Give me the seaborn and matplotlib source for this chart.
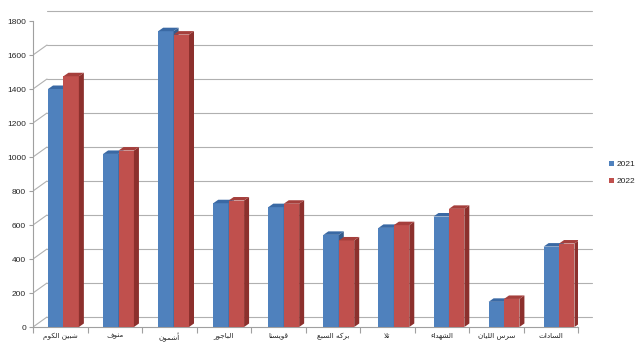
import numpy as np
import pandas as pd
import matplotlib
matplotlib.use("Agg")
import matplotlib.pyplot as plt
import seaborn as sns
from matplotlib.patches import Polygon
from matplotlib.transforms import offset_copy
from matplotlib.lines import Line2D

# ---------------- data ----------------
categories = ["شبين الكوم", "منوف", "أشمون", "الباجور", "قويسنا",
              "بركه السبع", "تلا", "الشهداء", "سرس الليان", "السادات"]
years = ["2021", "2022"]
values_2021 = [1400, 1018, 1740, 728, 705, 542, 583, 650, 148, 473]
values_2022 = [1475, 1038, 1720, 744, 725, 509, 599, 695, 165, 491]
y_ticks = [0, 200, 400, 600, 800, 1000, 1200, 1400, 1600, 1800]

# ------------- minimal Arabic shaping for display -------------
FORMS = {
    "ا": (0xFE8D, 0xFE8E, None, None), "أ": (0xFE83, 0xFE84, None, None),
    "ب": (0xFE8F, 0xFE90, 0xFE91, 0xFE92), "ت": (0xFE95, 0xFE96, 0xFE97, 0xFE98),
    "ج": (0xFE9D, 0xFE9E, 0xFE9F, 0xFEA0), "د": (0xFEA9, 0xFEAA, None, None),
    "ر": (0xFEAD, 0xFEAE, None, None), "س": (0xFEB1, 0xFEB2, 0xFEB3, 0xFEB4),
    "ش": (0xFEB5, 0xFEB6, 0xFEB7, 0xFEB8), "ع": (0xFEC9, 0xFECA, 0xFECB, 0xFECC),
    "ف": (0xFED1, 0xFED2, 0xFED3, 0xFED4), "ق": (0xFED5, 0xFED6, 0xFED7, 0xFED8),
    "ك": (0xFED9, 0xFEDA, 0xFEDB, 0xFEDC), "ل": (0xFEDD, 0xFEDE, 0xFEDF, 0xFEE0),
    "م": (0xFEE1, 0xFEE2, 0xFEE3, 0xFEE4), "ن": (0xFEE5, 0xFEE6, 0xFEE7, 0xFEE8),
    "ه": (0xFEE9, 0xFEEA, 0xFEEB, 0xFEEC), "و": (0xFEED, 0xFEEE, None, None),
    "ي": (0xFEF1, 0xFEF2, 0xFEF3, 0xFEF4), "ء": (0xFE80, None, None, None),
}
LAMALEF = {"ا": (0xFEFB, 0xFEFC), "أ": (0xFEF7, 0xFEF8)}


def dual(c):
    return c in FORMS and FORMS[c][2] is not None


def joins(c):
    return c in FORMS and FORMS[c][1] is not None


def shape(text):
    units = []
    i = 0
    while i < len(text):
        c = text[i]
        if c == "ل" and i + 1 < len(text) and text[i + 1] in LAMALEF:
            units.append(("LA", text[i + 1]))
            i += 2
        else:
            units.append((c, None))
            i += 1
    out = []
    for k, (c, extra) in enumerate(units):
        prev = units[k - 1][0] if k > 0 else None
        nxt = units[k + 1][0] if k + 1 < len(units) else None
        prev_d = prev is not None and (prev != "LA") and dual(prev)
        if c == "LA":
            iso, fin = LAMALEF[extra]
            out.append(chr(fin if prev_d else iso))
            continue
        if c not in FORMS:
            out.append(c)
            continue
        iso, fin, ini, med = FORMS[c]
        to_prev = prev_d and joins(c)
        to_next = dual(c) and nxt is not None and (nxt == "LA" or joins(nxt))
        if to_prev and to_next:
            g = med
        elif to_prev:
            g = fin
        elif to_next:
            g = ini
        else:
            g = iso
        out.append(chr(g))
    return "".join(out[::-1])


# ---------------- figure ----------------
sns.set_theme(style="white")
plt.rcParams["font.family"] = ["Liberation Sans", "DejaVu Sans"]

W, H = 640, 348
fig = plt.figure(figsize=(W / 100, H / 100), dpi=100)
fig.patch.set_facecolor("white")

L, R, T, B = 33, 578, 21, 327
DX, DY = 14, 10
rect = [L / W, 1 - B / H, (R - L) / W, (B - T) / H]

# floor / wall axes (ticks, labels, gridlines)
ax = fig.add_axes(rect)
ax.set_facecolor("none")
ax.set_xlim(-0.5, len(categories) - 0.5)
ax.set_ylim(0, 1800)
for s in ["top", "right"]:
    ax.spines[s].set_visible(False)
for s in ["left", "bottom"]:
    ax.spines[s].set_color("#a0a0a0")
    ax.spines[s].set_linewidth(0.8)
ax.set_yticks(y_ticks)
ax.set_yticklabels([str(t) for t in y_ticks], fontsize=6.0, color="#262626")
ax.tick_params(axis="y", length=3, width=0.8, color="#a0a0a0", pad=2, left=True)
ax.set_xticks(range(len(categories)))
ax.set_xticklabels([shape(c) for c in categories], fontsize=5.2, color="#262626",
                   family=["DejaVu Sans"])
ax.tick_params(axis="x", length=0, pad=4)
ax.set_xticks(np.arange(-0.5, len(categories) + 0.5, 1), minor=True)
ax.tick_params(axis="x", which="minor", length=4, width=0.8, color="#a0a0a0", bottom=True)

back = offset_copy(ax.transData, fig=fig, x=DX, y=DY, units="dots")
xl = ax.get_xlim()
gcol = "#b0b0b0"
for t in y_ticks:
    ax.plot(xl, [t, t], transform=back, color=gcol, lw=0.8, clip_on=False, zorder=0)
    yp = B - (t / 1800) * (B - T)
    ax.add_line(Line2D([L / W, (L + DX) / W], [1 - yp / H, 1 - (yp - DY) / H],
                       transform=fig.transFigure, color=gcol, lw=0.8))
ax.add_line(Line2D([R / W, (R + DX) / W], [1 - B / H, 1 - (B - DY) / H],
                   transform=fig.transFigure, color=gcol, lw=0.8))

# bars axes (slight perspective shift)
ax2 = fig.add_axes(rect)
ax2.set_facecolor("none")
ax2.set_axis_off()

df = pd.DataFrame({
    "category": categories * 2,
    "year": [years[0]] * len(categories) + [years[1]] * len(categories),
    "value": values_2021 + values_2022,
})
blue, red = "#4F81BD", "#C0504D"
sns.barplot(data=df, x="category", y="value", hue="year", order=categories,
            hue_order=years, palette=[blue, red], saturation=1, width=0.56,
            linewidth=0, ax=ax2, legend=False, errorbar=None)
ax2.set_xlim(-0.553, 9.344)
ax2.set_ylim(0, 1800)

fig.canvas.draw()
inv = ax2.transData.inverted()
p0 = inv.transform((0, 0))
p1 = inv.transform((5, 3.5))
ddx, ddy = p1[0] - p0[0], p1[1] - p0[1]

side_cols = {blue: "#345B8C", red: "#8C302D"}
top_cols = {blue: "#3A69A4", red: "#A53F3C"}
n = len(categories)
for idx, p in enumerate(ax2.patches):
    is_red = idx >= n
    base_z = 3 if is_red else 2
    fc = red if is_red else blue
    p.set_zorder(base_z)
    x0, w, h = p.get_x(), p.get_width(), p.get_height()
    x1 = x0 + w
    side = Polygon([(x1, 0), (x1 + ddx, ddy), (x1 + ddx, h + ddy), (x1, h)],
                   closed=True, facecolor=side_cols[fc], edgecolor="none", zorder=base_z + 0.1)
    top = Polygon([(x0, h), (x1, h), (x1 + ddx, h + ddy), (x0 + ddx, h + ddy)],
                  closed=True, facecolor=top_cols[fc], edgecolor="none", zorder=base_z + 0.1)
    ax2.add_patch(side)
    ax2.add_patch(top)

# legend
handles = [plt.Rectangle((0, 0), 1, 1, facecolor=c, edgecolor="none") for c in (blue, red)]
fig.legend(handles, years, loc="center left", bbox_to_anchor=(609 / W, 1 - 173 / H),
           frameon=False, fontsize=6.0, handlelength=0.55, handleheight=0.55,
           handletextpad=0.35, labelspacing=1.2, borderaxespad=0, borderpad=0,
           labelcolor="#262626")

fig.savefig("out.png", dpi=100, facecolor="white")
